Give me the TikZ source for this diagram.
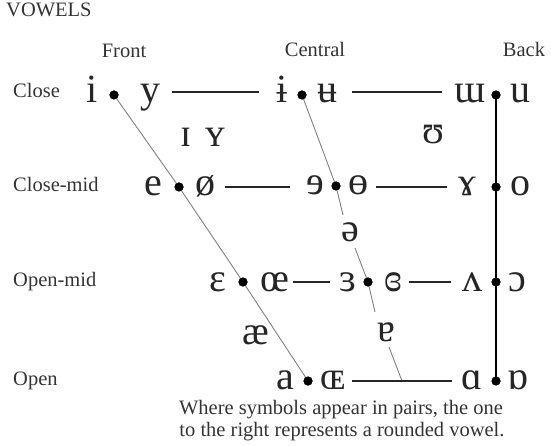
\documentclass[tikz,border=0pt]{standalone}
\usepackage{fontspec}
\setmainfont{Liberation Serif}
\newfontfamily\ipafont{Liberation Serif}
\begin{document}
\begin{tikzpicture}[x=1pt,y=-1pt,
 lbl/.style={font=\fontsize{20.5}{22}\selectfont, inner sep=0pt, text=black!80},
 sym/.style={font=\ipafont\fontsize{40}{40}\selectfont, inner sep=0pt, anchor=base, text=black!85},
 vdot/.style={circle, fill=black, inner sep=0pt, minimum size=9pt},
 hline/.style={line width=1.2pt, black!85},
 gline/.style={line width=0.9pt, black!50},
 bline/.style={line width=1.6pt, black}]
\useasboundingbox (0,0) rectangle (551,446);
% labels
\node[lbl, anchor=base west] (title) at (6,17) {VOWELS};
\node[lbl, anchor=base] (front) at (124,58) {Front};
\node[lbl, anchor=base] (central) at (315,57) {Central};
\node[lbl, anchor=base] (back) at (524,57) {Back};
\node[lbl, anchor=base west] (lclose) at (13,98) {Close};
\node[lbl, anchor=base west] (lclosemid) at (13,192) {Close-mid};
\node[lbl, anchor=base west] (lopenmid) at (13,287) {Open-mid};
\node[lbl, anchor=base west] (lopen) at (13,385) {Open};
% dots
\node[vdot] (fc) at (114,95) {};
\node[vdot] (cc) at (302,95) {};
\node[vdot] (bc) at (496,95) {};
\node[vdot] (fcm) at (179,187) {};
\node[vdot] (ccm) at (336,186) {};
\node[vdot] (bcm) at (496,187) {};
\node[vdot] (fom) at (243,282) {};
\node[vdot] (com) at (368,282) {};
\node[vdot] (bom) at (496,282) {};
\node[vdot] (fo) at (308,381) {};
\node[vdot] (bo) at (496,381) {};
% symbols close
\node[sym] (s-i) at (92,103) {i};
\node[sym] (s-y) at (150,103) {y};
\node[sym] (s-ibar) at (282,103) {ɨ};
\node[sym] (s-ubar) at (327,103) {ʉ};
\node[sym] (s-turnm) at (470,103) {ɯ};
\node[sym] (s-u) at (520,103) {u};
\node[sym] (s-smi) at (186,147) {ɪ};
\node[sym] (s-smy) at (215,147) {ʏ};
\node[sym] (s-hsh) at (433,144) {ʊ};
% close-mid
\node[sym] (s-e) at (153,196) {e};
\node[sym] (s-oslash) at (205,196) {ø};
\node[sym] (s-reve) at (315,195) {ɘ};
\node[sym] (s-barredo) at (358,195) {ɵ};
\node[sym] (s-gamma) at (467,196) {ɤ};
\node[sym] (s-o) at (520,196) {o};
\node[sym] (s-schwa) at (350,242) {ə};
% open-mid
\node[sym] (s-eps) at (218,291) {ɛ};
\node[sym] (s-oe) at (275,291) {œ};
\node[sym] (s-reveps) at (348,291) {ɜ};
\node[sym] (s-closedreveps) at (393,291) {ɞ};
\node[sym] (s-wedge) at (472,291) {ʌ};
\node[sym] (s-openo) at (517,291) {ɔ};
\node[sym] (s-ae) at (256,344) {æ};
\node[sym] (s-turna) at (386,341) {ɐ};
% open
\node[sym] (s-a) at (285,389) {a};
\node[sym] (s-OE) at (333,389) {ɶ};
\node[sym] (s-alpha) at (472,389) {ɑ};
\node[sym] (s-turnalpha) at (518,389) {ɒ};
% caption
\node[lbl, anchor=base, align=center] (cap1) at (341,414) {Where symbols appear in pairs, the one};
\node[lbl, anchor=base, align=center] (cap2) at (342,436) {to the right represents a rounded vowel.};
% coordinates for line ends
\coordinate (h1a) at (172,92); \coordinate (h1b) at (259,92);
\coordinate (h2a) at (352,92); \coordinate (h2b) at (442,92);
\coordinate (h3a) at (225,187); \coordinate (h3b) at (290,187);
\coordinate (h4a) at (376,187); \coordinate (h4b) at (447,187);
\coordinate (h5a) at (293,282); \coordinate (h5b) at (330,282);
\coordinate (h6a) at (409,282); \coordinate (h6b) at (451,282);
\coordinate (h7a) at (352,381); \coordinate (h7b) at (452,381);
\coordinate (cend) at (402,381);
\coordinate (cg1) at (343,215); \coordinate (cg2) at (355,248);
\coordinate (cg3) at (375,312); \coordinate (cg4) at (389,347);
% lines
\draw[gline] (fc.center) -- (fcm.center) -- (fom.center) -- (fo.center);
\draw[gline] (cc.center) -- (ccm.center) -- (cg1);
\draw[gline] (cg2) -- (com.center) -- (cg3);
\draw[gline] (cg4) -- (cend);
\draw[bline] (bc.center) -- (bcm.center) -- (bom.center) -- (bo.center);
\draw[hline] (h1a) -- (h1b);
\draw[hline] (h2a) -- (h2b);
\draw[hline] (h3a) -- (h3b);
\draw[hline] (h4a) -- (h4b);
\draw[hline] (h5a) -- (h5b);
\draw[hline] (h6a) -- (h6b);
\draw[hline] (h7a) -- (h7b);
% redraw dots on top
\foreach \d in {fc,cc,bc,fcm,ccm,bcm,fom,com,bom,fo,bo} \fill (\d) circle (4.5pt);
\end{tikzpicture}
\end{document}
